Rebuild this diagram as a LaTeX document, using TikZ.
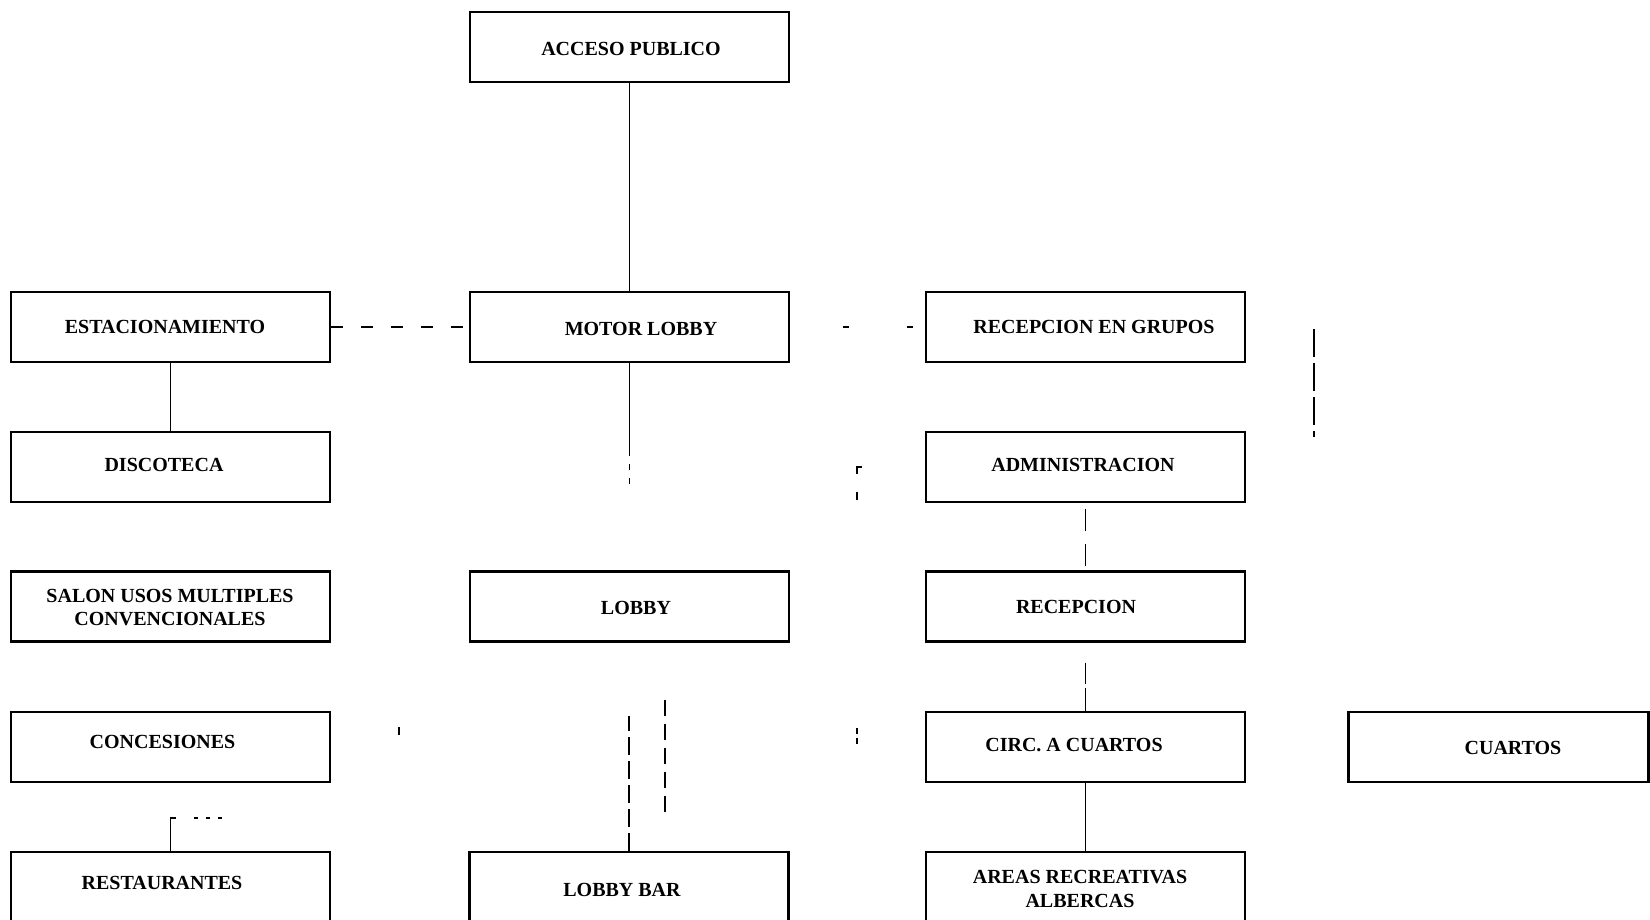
\documentclass[tikz,border=0pt]{standalone}
\usepackage{fontspec}
\setmainfont{Liberation Serif}
\begin{document}
\begin{tikzpicture}[x=0.5pt,y=-0.5pt,
 box/.style={draw, line width=1.1pt, minimum width=159.5pt, minimum height=35pt, inner sep=0pt},
 txt/.style={font=\bfseries\fontsize{10}{11.8}\selectfont, align=center, inner sep=0pt},
 conn/.style={line width=0.55pt}]
\useasboundingbox (0,0) rectangle (1650,920);
% boxes
\node[box] (acc) at (629.5,47) {};
\node[txt] (acc-t) at (631,48.5) {ACCESO PUBLICO};
\node[box] (est) at (170.5,327) {};
\node[txt] (est-t) at (165,327) {ESTACIONAMIENTO};
\node[box] (mot) at (629.5,327) {};
\node[txt] (mot-t) at (641,329) {MOTOR LOBBY};
\node[box] (rg) at (1085.5,327) {};
\node[txt] (rg-t) at (1094,327) {RECEPCION EN GRUPOS};
\node[box] (dis) at (170.5,467) {};
\node[txt] (dis-t) at (164,465) {DISCOTECA};
\node[box] (adm) at (1085.5,467) {};
\node[txt] (adm-t) at (1083,465) {ADMINISTRACION};
\node[box] (sal) at (170.5,606.5) {};
\node[txt] (sal-t) at (170,607.5) {SALON USOS MULTIPLES\\CONVENCIONALES};
\node[box] (lob) at (629.5,606.5) {};
\node[txt] (lob-t) at (636,608) {LOBBY};
\node[box] (rec) at (1085.5,606.5) {};
\node[txt] (rec-t) at (1076,607) {RECEPCION};
\node[box] (con) at (170.5,747) {};
\node[txt] (con-t) at (162.5,742) {CONCESIONES};
\node[box] (cir) at (1085.5,747) {};
\node[txt] (cir-t) at (1074,745) {CIRC. A CUARTOS};
\node[box, minimum width=150pt] (cua) at (1498.5,747) {};
\node[txt] (cua-t) at (1513,748) {CUARTOS};
\node[box] (res) at (170.5,887) {};
\node[txt] (res-t) at (162,883) {RESTAURANTES};
\node[box] (lbar) at (629,887) {};
\node[txt] (lbar-t) at (622,890) {LOBBY BAR};
\node[box] (are) at (1085.5,887) {};
\node[txt] (are-t) at (1080,889) {AREAS RECREATIVAS\\ALBERCAS};
% free-end coordinates
\coordinate (m1) at (629.5,450);
\coordinate (m2) at (629.5,490);
\coordinate (r1) at (170.5,818);
\coordinate (r1a) at (176,818);
\coordinate (r2a) at (194,818);
\coordinate (r2b) at (224,818);
\coordinate (lb1) at (629,716);
\coordinate (lc1) at (665,700);
\coordinate (lc2) at (665,819);
\coordinate (g1) at (1314,329);
\coordinate (g2) at (1314,437);
\coordinate (k1) at (862,467);
\coordinate (k2) at (857,467);
\coordinate (k3) at (857,474);
\coordinate (k4) at (857,492);
\coordinate (k5) at (857,500);
\coordinate (k6) at (857,728);
\coordinate (k7) at (857,745);
\coordinate (s1) at (399,727);
\coordinate (s2) at (399,735);
% connectors
\draw[conn] (acc.south) -- (mot.north);
\draw[conn, dash pattern=on 6pt off 9pt] (est.east) -- (mot.west);
\draw[conn, dash pattern=on 3pt off 29pt, dash phase=5.5pt] (mot.east) -- (rg.west);
\draw[conn] (est.south) -- (dis.north);
\draw[conn] (mot.south) -- (m1);
\draw[conn, dash pattern=on 3pt off 4pt] (m1) -- (m2);
\draw[conn, dash pattern=on 11pt off 6.5pt, dash phase=14.5pt] (adm.south) -- (rec.north);
\draw[conn, dash pattern=on 10.5pt off 2pt on 12pt off 10pt, dash phase=24.5pt] (rec.south) -- (cir.north);
\draw[conn] (cir.south) -- (are.north);
\draw[conn] (res.north) -- (r1) -- (r1a);
\draw[conn, dash pattern=on 2pt off 4pt] (r2a) -- (r2b);
\draw[conn, dash pattern=on 9pt off 3pt] (lbar.north) -- (lb1);
\draw[conn, dash pattern=on 8pt off 4pt] (lc1) -- (lc2);
\draw[conn, dash pattern=on 14pt off 3pt] (g1) -- (g2);
\draw[conn] (k1) -- (k2) -- (k3);
\draw[conn] (k4) -- (k5);
\draw[conn, dash pattern=on 3pt off 2pt] (k6) -- (k7);
\draw[conn] (s1) -- (s2);
\end{tikzpicture}
\end{document}
